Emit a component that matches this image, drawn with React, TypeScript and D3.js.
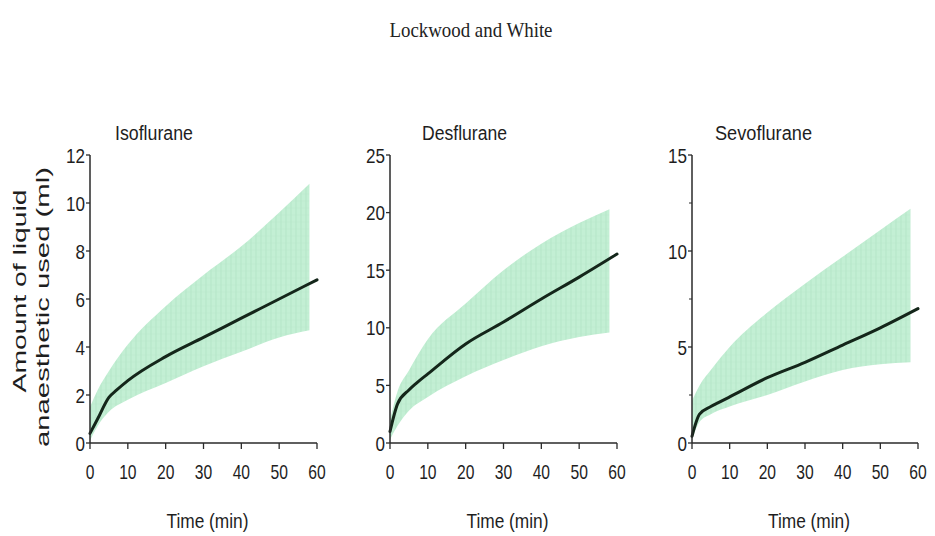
import React from "react";
import * as d3 from "d3";

// Time grids (min)
const meanTimes = [0, 2, 5, 7, 10, 20, 30, 40, 50, 60];
const bandTimes = [0, 2, 5, 10, 20, 30, 40, 50, 58];

// Isoflurane (ml)
const isoMean = [0.4, 1.0, 1.9, 2.2, 2.6, 3.6, 4.4, 5.2, 6.0, 6.8];
const isoUpper = [1.5, 2.2, 3.0, 4.1, 5.7, 7.0, 8.2, 9.6, 10.8];
const isoLower = [0.1, 0.7, 1.3, 1.8, 2.5, 3.2, 3.8, 4.4, 4.7];

// Desflurane (ml)
const desMean = [1.0, 3.4, 4.6, 5.2, 6.0, 8.6, 10.5, 12.5, 14.4, 16.4];
const desUpper = [2.0, 4.5, 6.3, 9.0, 12.1, 15.0, 17.3, 19.1, 20.3];
const desLower = [0.3, 1.5, 2.8, 4.0, 5.8, 7.2, 8.4, 9.2, 9.6];

// Sevoflurane (ml)
const sevoMean = [0.35, 1.5, 1.9, 2.1, 2.4, 3.4, 4.2, 5.1, 6.0, 7.0];
const sevoUpper = [2.2, 3.0, 3.8, 5.0, 6.8, 8.3, 9.7, 11.1, 12.2];
const sevoLower = [0.2, 1.1, 1.5, 1.9, 2.5, 3.2, 3.8, 4.1, 4.2];

const xTicks = [0, 10, 20, 30, 40, 50, 60];
const isoYTicks = [0, 2, 4, 6, 8, 10, 12];
const desYTicks = [0, 5, 10, 15, 20, 25];
const sevoYTicks = [0, 5, 10, 15];
const sevoYMinor = [2.5, 7.5, 12.5];

const panelTitles = ["Isoflurane", "Desflurane", "Sevoflurane"];
const mainTitle = "Lockwood and White";
const xTitle = "Time (min)";
const yTitleLines = ["Amount of liquid", "anaesthetic used (ml)"];

const W = 935;
const H = 536;
const AXIS = "#2a2a2a";
const LINE = "#14261a";
const BAND = "#c3efd4";
const INK = "#1e1e1e";
const SANS = "'Liberation Sans', Arial, Helvetica, sans-serif";

type Panel = {
  title: string;
  left: number;
  right: number;
  titleX: number;
  titleW: number;
  yMax: number;
  yTicks: number[];
  yMinor: number[];
  mean: number[];
  upper: number[];
  lower: number[];
};

const panels: Panel[] = [
  { title: panelTitles[0], left: 90, right: 317, titleX: 115, titleW: 78, yMax: 12, yTicks: isoYTicks, yMinor: [], mean: isoMean, upper: isoUpper, lower: isoLower },
  { title: panelTitles[1], left: 390, right: 617, titleX: 422, titleW: 85, yMax: 25, yTicks: desYTicks, yMinor: [], mean: desMean, upper: desUpper, lower: desLower },
  { title: panelTitles[2], left: 692, right: 918, titleX: 715, titleW: 97, yMax: 15, yTicks: sevoYTicks, yMinor: sevoYMinor, mean: sevoMean, upper: sevoUpper, lower: sevoLower },
];

const TOP = 155;
const BOTTOM = 443;

// narrow numerals: fixed advance per digit
const numW = (v: number, per: number) => String(v).length * per;

function PanelView({ p, idx }: { p: Panel; idx: number }) {
  const x = d3.scaleLinear().domain([0, 60]).range([p.left, p.right]);
  const y = d3.scaleLinear().domain([0, p.yMax]).range([BOTTOM, TOP]);

  const bandData = bandTimes.map((t, i) => ({ t, lo: p.lower[i], hi: p.upper[i] }));
  const area = d3
    .area<{ t: number; lo: number; hi: number }>()
    .x((d) => x(d.t))
    .y0((d) => y(d.lo))
    .y1((d) => y(d.hi))
    .curve(d3.curveMonotoneX);

  const meanData = meanTimes.map((t, i) => ({ t, v: p.mean[i] }));
  const line = d3
    .line<{ t: number; v: number }>()
    .x((d) => x(d.t))
    .y((d) => y(d.v))
    .curve(d3.curveMonotoneX);

  const patId = `hatch-${idx}`;
  const cx = (p.left + p.right) / 2;

  return (
    <g>
      <defs>
        <pattern id={patId} width={5} height={7} patternUnits="userSpaceOnUse">
          <rect width={5} height={7} fill={BAND} />
          <line x1={1} y1={0} x2={1} y2={7} stroke="#a6dcbb" strokeWidth={0.8} opacity={0.6} />
          <line x1={0} y1={5} x2={5} y2={5} stroke="#b2e4c5" strokeWidth={0.6} opacity={0.5} />
        </pattern>
      </defs>
      <path d={area(bandData) || ""} fill={`url(#${patId})`} />
      <path d={line(meanData) || ""} fill="none" stroke={LINE} strokeWidth={3} strokeLinejoin="round" strokeLinecap="round" />

      {/* axes */}
      <line x1={p.left} y1={TOP} x2={p.left} y2={BOTTOM} stroke={AXIS} strokeWidth={1.5} />
      <line x1={p.left} y1={BOTTOM} x2={p.right} y2={BOTTOM} stroke={AXIS} strokeWidth={1.5} />

      {p.yTicks.map((v) => (
        <g key={`y${v}`}>
          <line x1={p.left - 4} x2={p.left} y1={y(v)} y2={y(v)} stroke={AXIS} strokeWidth={1.3} />
          <text x={p.left - 5} y={y(v)} dy="0.36em" textAnchor="end" fontFamily={SANS} fontSize={21} fill={INK} textLength={numW(v, 9.5)} lengthAdjust="spacingAndGlyphs">
            {v}
          </text>
        </g>
      ))}
      {p.yMinor.map((v) => (
        <line key={`ym${v}`} x1={p.left - 3} x2={p.left} y1={y(v)} y2={y(v)} stroke={AXIS} strokeWidth={1} />
      ))}
      {xTicks.map((v) => (
        <g key={`x${v}`}>
          <line x1={x(v)} x2={x(v)} y1={BOTTOM} y2={BOTTOM + 6} stroke={AXIS} strokeWidth={1.3} />
          <text x={x(v)} y={479} textAnchor="middle" fontFamily={SANS} fontSize={21} fill={INK} textLength={numW(v, 8.7)} lengthAdjust="spacingAndGlyphs">
            {v}
          </text>
        </g>
      ))}

      <text x={p.titleX} y={140} fontFamily={SANS} fontSize={20} fill={INK} textLength={p.titleW} lengthAdjust="spacingAndGlyphs">
        {p.title}
      </text>
      <text x={cx + 4} y={528} textAnchor="middle" fontFamily={SANS} fontSize={20} fill={INK} textLength={82} lengthAdjust="spacingAndGlyphs">
        {xTitle}
      </text>
    </g>
  );
}

export default function App() {
  return (
    <svg width={W} height={H} style={{ display: "block", position: "absolute", left: 0, top: 0, background: "#fff" }}>
      <rect width={W} height={H} fill="#fff" />
      <text x={471} y={37} textAnchor="middle" fontFamily="'Liberation Serif', 'Times New Roman', serif" fontSize={21} fill="#222" textLength={163} lengthAdjust="spacingAndGlyphs">
        {mainTitle}
      </text>
      <text transform="translate(26,291) rotate(-90)" textAnchor="middle" fontFamily={SANS} fontSize={19} fill={INK} textLength={203} lengthAdjust="spacingAndGlyphs">
        {yTitleLines[0]}
      </text>
      <text transform="translate(49,307) rotate(-90)" textAnchor="middle" fontFamily={SANS} fontSize={19} fill={INK} textLength={280} lengthAdjust="spacingAndGlyphs">
        {yTitleLines[1]}
      </text>
      {panels.map((p, i) => (
        <PanelView key={p.title} p={p} idx={i} />
      ))}
    </svg>
  );
}
